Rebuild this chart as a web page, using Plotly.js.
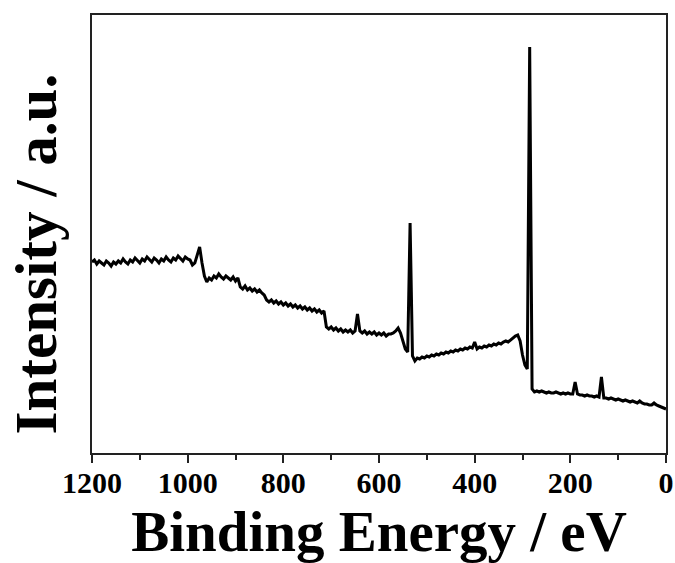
<!DOCTYPE html>
<html>
<head>
<meta charset="utf-8">
<script src="https://cdn.plot.ly/plotly-3.0.1.min.js"></script>
<style>
  html, body { margin: 0; padding: 0; background: #ffffff; }
  #chart { width: 675px; height: 563px; }
</style>
</head>
<body>
<div id="chart"></div>
<script>
// Binding energy (eV)
const bindingEnergy = [
  1200,1195,1190,1185,1180,1175,1170,1165,1160,1155,1150,1145,1140,1135,1130,1125,1120,1115,1110,1105,
  1100,1095,1090,1085,1080,1075,1070,1065,1060,1055,1050,1045,1040,1035,1030,1025,1020,1015,1010,1005,
  1000,995,990,985,980,975,970,965,960,955,950,945,940,935,930,925,920,915,910,905,
  900,895,890,885,880,875,870,865,860,855,850,845,840,835,830,825,820,815,810,805,
  800,795,790,785,780,775,770,765,760,755,750,745,740,735,730,725,720,715,710,705,
  700,695,690,685,680,675,670,665,660,655,650,645,640,635,630,625,620,615,610,605,
  600,595,590,585,580,575,570,565,560,555,550,545,540,535,530,525,520,515,510,505,
  500,495,490,485,480,475,470,465,460,455,450,445,440,435,430,425,420,415,410,405,
  400,395,390,385,380,375,370,365,360,355,350,345,340,335,330,325,320,315,310,305,
  300,295,290,285,280,275,270,265,260,255,250,245,240,235,230,225,220,215,210,205,
  200,195,190,185,180,175,170,165,160,155,150,145,140,135,130,125,120,115,110,105,
  100,95,90,85,80,75,70,65,60,55,50,45,40,35,30,25,20,15,10,5,
  0
];
// Intensity (a.u.)
const intensity = [
  191,193,189,192,190,188,192,190,187,191,189,192,190,194,191,189,193,191,195,192,
  190,194,192,196,193,191,195,193,190,194,192,196,193,191,195,193,197,194,192,196,
  194,193,188,190,198,206,190,177,171,175,173,177,175,179,176,174,177,175,173,176,
  172,175,166,164,167,163,165,162,164,161,163,160,158,153,151,153,150,152,149,151,
  148,150,147,149,146,148,145,147,144,146,143,145,142,144,141,143,140,142,126,124,
  126,123,125,122,124,121,123,121,123,120,122,139,122,120,122,119,121,119,121,118,
  120,118,120,117,119,119,120,122,125,120,112,104,101,230,97,92,95,94,96,95,
  97,96,98,97,99,98,100,99,101,100,102,101,103,102,104,103,105,104,106,105,
  111,104,106,105,107,106,108,107,109,108,110,109,111,112,111,113,115,117,118,112,
  98,88,84,406,64,61,62,61,62,61,60,61,60,60,61,60,59,60,59,60,
  59,59,71,59,58,58,57,58,57,57,56,57,56,76,55,55,54,55,54,53,
  54,53,52,53,52,51,52,51,50,52,50,49,49,48,48,50,48,47,46,45,
  44
];
const xTickVals = [1200, 1000, 800, 600, 400, 200, 0];
const xTickText = ["1200", "1000", "800", "600", "400", "200", "0"];
const xTitle = "Binding Energy / eV";
const yTitle = "Intensity / a.u.";

const serif = '"Liberation Serif", "Times New Roman", Times, serif';

const trace = {
  x: bindingEnergy,
  y: intensity,
  type: 'scatter',
  mode: 'lines',
  line: { color: '#000000', width: 3 },
  hoverinfo: 'skip'
};

const layout = {
  width: 675,
  height: 563,
  margin: { l: 92, r: 9, t: 15, b: 110 },
  paper_bgcolor: '#ffffff',
  plot_bgcolor: '#ffffff',
  showlegend: false,
  font: { family: serif, color: '#000000' },
  xaxis: {
    range: [1200, 0],
    tickmode: 'array',
    tickvals: xTickVals,
    ticktext: xTickText,
    ticks: 'outside',
    ticklen: 8,
    tickwidth: 2,
    tickcolor: '#222222',
    ticklabelstandoff: -6,
    minor: { dtick: 100, ticks: 'outside', ticklen: 5, tickwidth: 2, tickcolor: '#222222', showgrid: false },
    showline: true,
    linecolor: '#222222',
    linewidth: 2,
    mirror: true,
    showgrid: false,
    zeroline: false,
    tickfont: { family: serif, size: 30, color: '#000000', weight: 'bold' },
    title: { text: '<b>' + xTitle + '</b>', font: { family: serif, size: 57, color: '#000000' }, standoff: 14 }
  },
  yaxis: {
    range: [0, 438],
    showticklabels: false,
    ticks: '',
    showline: true,
    linecolor: '#222222',
    linewidth: 2,
    mirror: true,
    showgrid: false,
    zeroline: false
  },
  annotations: [{
    text: '<b>' + yTitle + '</b>',
    xref: 'paper', yref: 'paper',
    x: -0.098, y: 0.455,
    xanchor: 'center', yanchor: 'middle',
    textangle: -90,
    showarrow: false,
    font: { family: serif, size: 59, color: '#000000' }
  }]
};

Plotly.newPlot('chart', [trace], layout, { displayModeBar: false, staticPlot: true });
</script>
</body>
</html>
